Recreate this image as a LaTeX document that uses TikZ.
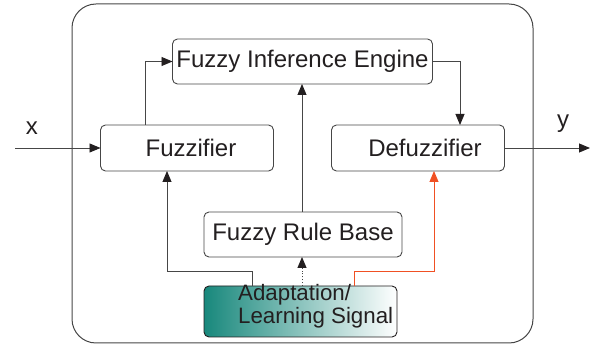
\documentclass[tikz,border=0pt]{standalone}
\usepackage{fontspec}
\setmainfont{Liberation Sans}
\usetikzlibrary{arrows.meta}
\definecolor{ink}{RGB}{35,31,32}
\definecolor{linec}{RGB}{70,70,70}
\definecolor{tealc}{RGB}{24,136,124}
\definecolor{redc}{RGB}{240,80,35}
\tikzset{
  blk/.style={draw=linec, line width=0.9pt, rounded corners=5pt, inner sep=0pt, outer sep=0pt,
    font=\fontsize{24}{23}\selectfont, text=ink},
  conn/.style={draw=linec, line width=0.9pt},
  arr/.style={-{Triangle[length=11pt,width=9pt,color=ink]}},
  lbl/.style={font=\fontsize{24}{23}\selectfont, text=ink, inner sep=0pt}
}
\begin{document}
\begin{tikzpicture}[x=1pt,y=-1pt]
\useasboundingbox (0,0) rectangle (590,347);
% outer frame
\draw[draw=linec, line width=1pt, rounded corners=24pt] (72,4) rectangle (533,343);
% blocks
\node[blk, minimum width=260pt, minimum height=45pt] (fie) at (302.5,61.5) {Fuzzy Inference Engine};
\node[blk, minimum width=173pt, minimum height=46pt] (fuzz) at (187,148) {\hspace*{8pt}Fuzzifier};
\node[blk, minimum width=173pt, minimum height=46pt] (defuzz) at (418,148) {\hspace*{14pt}Defuzzifier};
\node[blk, minimum width=198pt, minimum height=45pt] (frb) at (303,234.5) {Fuzzy Rule Base};
\node[blk, draw=ink, minimum width=193pt, minimum height=51pt, left color=tealc, right color=white] (adapt) at (300.5,311.5) {};
\node[lbl, font=\fontsize{22.3}{23}\selectfont, anchor=north west, align=left] (adapttext) at (238,284) {Adaptation/\\Learning Signal};
% labels
\node[lbl] (xl) at (32,128) {x};
\node[lbl] (yl) at (563,124) {y};
% connectors
\coordinate (xin) at (15,148);
\coordinate (yout) at (590,148);
\draw[conn, arr] (xin) -- (fuzz.west);
\draw[conn, arr] (defuzz.east) -- (yout);
\draw[conn, arr] (fuzz.north -| 145,0) |- (fie.west);
\draw[conn, arr] (fie.east) -| (defuzz.north -| 460,0);
\draw[conn, arr] (frb.north -| 302,0) -- (fie.south -| 302,0);
\draw[conn, arr, dotted, line width=1pt] (adapt.north -| 302,0) -- (frb.south -| 302,0);
\draw[conn, arr] (adapt.north -| 252,0) -- (252,271) -- (167,271) -- (fuzz.south -| 167,0);
\draw[conn, draw=redc, arr, -{Triangle[length=11pt,width=9pt,color=redc]}] (adapt.north -| 354,0) -- (354,271) -- (434,271) -- (defuzz.south -| 434,0);
\end{tikzpicture}
\end{document}
